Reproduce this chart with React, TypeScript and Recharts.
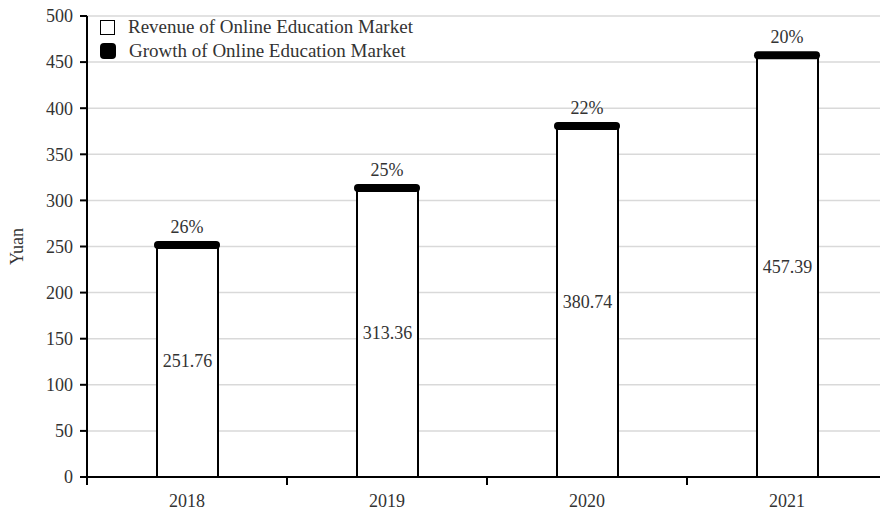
import React from 'react';
import { ComposedChart, Bar, Scatter, XAxis, YAxis, CartesianGrid, LabelList } from 'recharts';

const years = ['2018', '2019', '2020', '2021'];
const revenue = [251.76, 313.36, 380.74, 457.39];
const growth = [26, 25, 22, 20];
const yTicks = [0, 50, 100, 150, 200, 250, 300, 350, 400, 450, 500];
const legendNames = ['Revenue of Online Education Market', 'Growth of Online Education Market'];

const data = years.map((y, i) => ({ year: y, revenue: revenue[i], growth: growth[i] }));

const FONT = '"Liberation Serif", "Times New Roman", serif';
const TEXT = '#333';
const FS = 18;
const X_TICK_GAP = 17;
const X_TICK_LEN = 8;

const GrowthCap = (props: any) => {
  const { cx, cy, payload } = props;
  if (cx == null || cy == null) return null;
  return (
    <g>
      <rect x={cx - 33} y={cy - 4} width={66} height={8} rx={4} ry={4} fill="#000" />
      <text x={cx} y={cy - 12} textAnchor="middle" fontFamily={FONT} fontSize={FS} fill={TEXT}>
        {`${payload.growth}%`}
      </text>
    </g>
  );
};

const XTick = (props: any) => {
  const { x, y, payload } = props;
  const half = payload && typeof payload.offset === 'number' ? payload.offset : 0;
  const y0 = y - X_TICK_GAP;
  const bx = x - half;
  return (
    <g>
      <line x1={bx} y1={y0} x2={bx} y2={y0 + X_TICK_LEN} stroke="#000" strokeWidth={2} />
      <text x={x} y={y} dy="0.71em" textAnchor="middle" fontFamily={FONT} fontSize={FS} fill={TEXT}>
        {payload.value}
      </text>
    </g>
  );
};

const LegendBox = () => (
  <div style={{ position: 'absolute', left: 100, top: 15, fontFamily: FONT, fontSize: 19, color: TEXT, lineHeight: '24px', whiteSpace: 'nowrap' }}>
    <div style={{ display: 'flex', alignItems: 'center' }}>
      <span style={{ display: 'inline-block', width: 13, height: 13, border: '1.5px solid #000', background: '#fff', marginRight: 13, boxSizing: 'content-box' }} />
      {legendNames[0]}
    </div>
    <div style={{ display: 'flex', alignItems: 'center' }}>
      <span style={{ display: 'inline-block', width: 16, height: 16, borderRadius: 4, background: '#000', marginRight: 13 }} />
      {legendNames[1]}
    </div>
  </div>
);

const YLabel = (props: any) => {
  const vb = props.viewBox || {};
  const cx = 17;
  const cy = (vb.y ?? 0) + (vb.height ?? 0) / 2;
  return (
    <text x={cx} y={cy} transform={`rotate(-90, ${cx}, ${cy})`} textAnchor="middle" dominantBaseline="central" fontFamily={FONT} fontSize={FS} fill={TEXT}>
      Yuan
    </text>
  );
};

export default function App() {
  return (
    <div style={{ width: 880, height: 512, position: 'absolute', left: 0, top: 0 }}>
      <ComposedChart width={880} height={512} data={data} margin={{ top: 16, right: -7, bottom: 0, left: 0 }}>
        <CartesianGrid horizontal vertical={false} stroke="#d9d9d9" strokeWidth={1.5} />
        <XAxis
          dataKey="year"
          height={35}
          tickLine={false}
          tickSize={8}
          tickMargin={9}
          axisLine={{ stroke: '#000', strokeWidth: 2 }}
          tick={<XTick />}
        />
        <YAxis
          domain={[0, 500]}
          ticks={yTicks}
          width={87}
          tickSize={7}
          tickMargin={7}
          interval={0}
          axisLine={{ stroke: '#000', strokeWidth: 2 }}
          tickLine={{ stroke: '#000', strokeWidth: 2 }}
          tick={{ fontFamily: FONT, fontSize: FS, fill: TEXT }}
          label={<YLabel />}
        />
        <Bar dataKey="revenue" barSize={61} fill="#fff" stroke="#000" strokeWidth={2} isAnimationActive={false}>
          <LabelList dataKey="revenue" position="center" style={{ fontFamily: FONT, fontSize: FS, fill: TEXT }} />
        </Bar>
        <Scatter dataKey="revenue" shape={<GrowthCap />} isAnimationActive={false} />
      </ComposedChart>
      <LegendBox />
    </div>
  );
}
